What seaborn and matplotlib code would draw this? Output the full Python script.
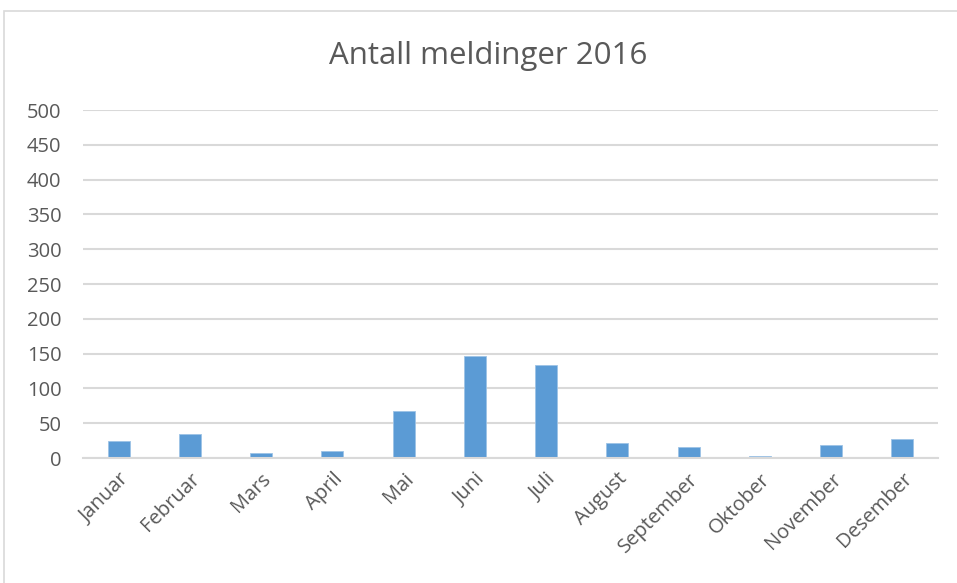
import matplotlib
matplotlib.use("Agg")
import matplotlib.pyplot as plt
import seaborn as sns
import pandas as pd
from matplotlib.patches import Rectangle

months = ["Januar", "Februar", "Mars", "April", "Mai", "Juni", "Juli",
          "August", "September", "Oktober", "November", "Desember"]
counts = [25, 35, 7, 10, 68, 147, 133, 22, 16, 3, 18, 27]
yticks = [0, 50, 100, 150, 200, 250, 300, 350, 400, 450, 500]
title = "Antall meldinger 2016"

sns.set_style("white")
plt.rcParams['font.family'] = ['Open Sans', 'DejaVu Sans']

W, H = 957, 583
fig = plt.figure(figsize=(W / 100, H / 100), dpi=100)
ax = fig.add_axes([83 / W, 1 - 458 / H, (938 - 83) / W, (458 - 110) / H])

df = pd.DataFrame({"month": months, "count": counts})
sns.barplot(data=df, x="month", y="count", ax=ax, color="#5B9BD5",
            saturation=1, width=0.31, edgecolor="#9DC3E6", linewidth=0.6)

ax.set_ylim(0, 500)
ax.set_yticks(yticks)
ax.set_yticklabels([str(v) for v in yticks])
ax.set_xlim(-0.5, len(months) - 0.5)
ax.grid(axis="y", color="#D9D9D9", linewidth=1.5)
ax.set_axisbelow(True)
for s in ["left", "right", "top"]:
    ax.spines[s].set_visible(False)
ax.spines["bottom"].set_color("#D9D9D9")
ax.spines["bottom"].set_linewidth(1.5)
ax.set_xlabel("")
ax.set_ylabel("")
ax.tick_params(axis="both", length=0, colors="#595959", labelsize=14.5)
ax.tick_params(axis="y", pad=15.5)
plt.setp(ax.get_xticklabels(), rotation=45, ha="right", rotation_mode="anchor")
ax.tick_params(axis="x", pad=8)

fig.text(488 / W, 1 - 56 / H, title, ha="center", va="center",
         fontsize=22.5, color="#595959")

fig.patches.append(Rectangle((4 / W, -0.05), 1.2, 1 - 11 / H + 0.05,
                             transform=fig.transFigure, fill=False,
                             edgecolor="#D9D9D9", linewidth=1.2))

fig.savefig("out.png", dpi=100, facecolor="white")
